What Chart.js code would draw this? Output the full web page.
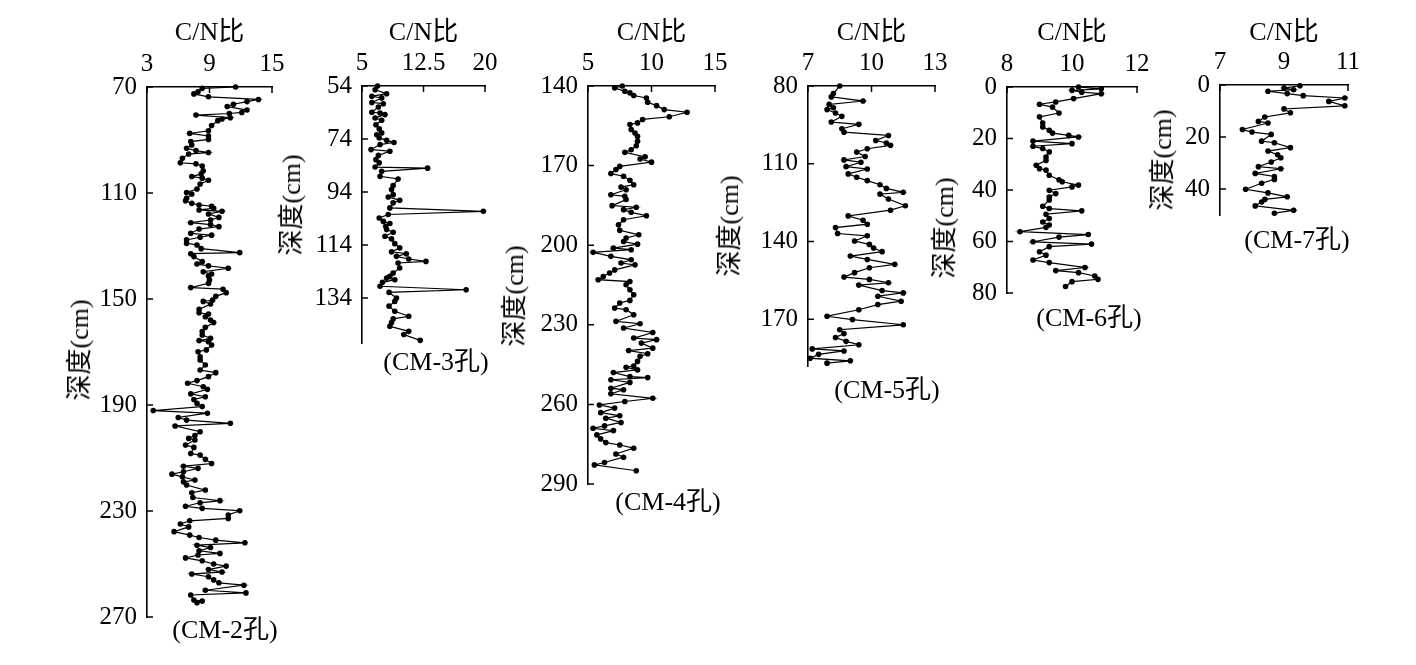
<!DOCTYPE html>
<html><head><meta charset="utf-8">
<script src="https://cdn.jsdelivr.net/npm/chart.js@4"></script>
<style>
html,body{margin:0;padding:0;background:#fff;width:1416px;height:665px;overflow:hidden}
canvas{position:absolute;left:0;top:0}
.cap,.ytl{position:absolute;font-family:"Liberation Serif","Noto Sans CJK SC",serif;font-size:26px;color:#000;white-space:nowrap;line-height:1}
.cap{transform:translate(-50%,-50%)}
.ytl{transform:translate(-50%,-50%) rotate(-90deg)}
</style></head><body>
<script>
// ---------- DATA ----------
const xTitle = 'C/N比';
const yTitle = '深度(cm)';

const cm2Depth = [70,70.5,71.8,72.6,73.7,74.7,75.5,76.5,77.4,78.7,79.6,80,80.6,81.6,82.1,82.7,84.5,86.5,87.5,88.5,89.8,90.6,91.9,93.1,94,94.7,95.3,96.9,98.6,99,99.8,101.6,102.8,103.8,104.4,105.2,106.6,108.5,109.8,110.4,112,112.9,113.9,114.5,115,115.8,116.4,116.9,117.9,119.2,120.2,121.2,121.9,122.7,123.6,125.2,125.9,126.7,127.7,129,129.6,131,132.5,132.9,134,135.9,136.8,137.5,138.4,139.7,140.6,141.3,142.8,144.1,145.7,146.3,147.6,149,150.4,150.9,151.9,153.9,155.2,155.7,156.7,157.9,158.9,160.7,162.3,163.6,164.8,165.7,166.1,167.4,169.2,169.9,171.8,173,174.9,176.8,177.8,179.3,180.8,181.8,183.1,184.1,185.8,186.9,187.9,189.4,190.6,192.1,193.1,194.7,195.7,196.9,197.9,200.1,201.5,202.6,203.2,205.1,206,208.3,208.9,210.5,212.1,213.1,213.9,215.2,216.1,217.1,218.3,219,220.2,222.1,223.1,224.9,226.1,226.9,228.2,229,229.9,231.5,232.8,233.7,234.9,236,237.8,239.1,240,241,242,242.9,243.8,245,246,246.6,247.7,248.8,250,250.8,252.1,253,253.8,254.8,256,257.1,258,259.9,260.9,261.7,263.6,264,264.6];
const cm2CN = [11.5,8.3,7.9,7.5,8.9,13.7,12.6,11.3,10.7,12.6,12.1,10.9,7.7,11,10.2,9.8,9.2,8.9,7.1,8.9,8.9,7.2,7.3,6.8,7.7,8.9,7,6.4,6.2,7.7,8.3,8.4,8.2,7.3,8.3,8.9,8.1,7.8,6.8,7.3,6.8,6.7,7.3,8,9.2,9.4,8,10.2,8.9,9.9,9.1,7.2,9.1,9.9,8,7.2,9.2,8.1,6.8,6.8,7.8,8.2,11.9,7.2,7.5,8.3,7.8,8.9,10.8,8.4,9.2,8.9,9,8.9,7.2,10.3,10.6,9.6,9.3,8.4,9.1,8,8,8.9,8.6,9.1,9.4,8.6,8.3,8.3,9.1,8,8.9,9.2,8.7,7.9,8.1,8.1,8.6,8.1,9.6,8.9,7.8,6.9,8.4,8.8,7.2,8.6,7.5,7.8,8.3,3.6,8.8,6,6.8,11,5.7,8.1,7.6,7,7.6,6.7,7.5,7.2,8.1,8.6,9.2,6.5,7.9,6.5,5.4,6.4,7.6,6.5,6.8,8.6,7.3,7.4,10,8.1,6.7,8.3,11.9,10.8,10.8,7.1,6.2,7,5.6,7.1,8,9.6,12.4,7.8,9.1,8,10,7.9,6.7,8.3,9.4,10.6,8.9,10.2,7.3,8.9,9.4,9.9,12.3,8.6,12.5,7.2,7.5,8.3,7.8];

const cm3Depth = [54,55.4,56.9,57.9,58.5,60.2,60.7,61.9,63.9,64.2,64.8,66.1,66.9,68.6,70.2,71.7,72.4,73.6,74.5,75.3,76.1,78,78.6,80.2,81.8,83,84.6,85,86.2,88.1,89.1,91.6,93.1,95,95.9,97.1,98.1,100,101.3,102.5,103.8,105.1,105.9,107,108.2,109.2,110.7,111.7,113.5,115.1,116.6,117.3,118.3,119.3,120.2,120.8,122.7,124.6,125.8,126.5,127.1,128.1,129.6,130.9,131.9,134,135.3,137.1,139,140.9,141.9,143.3,144.7,146.6,147.8,150];
const cm3CN = [6.9,6.6,8,6.2,7.4,6.2,7.6,7,6.2,7.2,7.8,6.6,7.4,6.7,7.1,7.4,6.8,7.1,8,8.9,7.2,6.1,8.4,7,6.7,7.1,6.6,13,7.4,7.2,9.4,8.8,8.6,8.8,8.2,9.6,8.8,8.4,19.8,8.2,7.1,7.6,8.4,7.9,8,8.8,7.8,8.6,9,9.6,8.6,10.4,9.2,10.7,12.8,9.4,9.6,8.8,8.4,8,9,7.5,7.2,17.7,8.3,9.2,9,8.3,9,10.7,8.8,8.6,8.4,10.7,10.1,12.1];

const cm4Depth = [140,140.7,142,142.6,143.6,144.5,146.1,147.4,148.9,149.9,151.6,152.6,153.9,154.5,156.4,157.7,159,160.8,162.5,164,165,166.7,167.5,168.7,170.3,171.5,173,174,175.5,177.2,178.1,179.1,181,181.6,182.8,185.1,185.7,186.6,187.6,188.9,190.4,192.3,194.4,196.1,197.3,198.6,199.6,201.1,201.7,202.7,204.2,205.5,206.7,207.4,209.3,210.5,211.8,213,213.7,214.9,216.8,218.7,220.8,221.8,223.7,224.3,226.2,228.7,229.6,231.2,232.9,235,235.6,236.9,238.8,239.7,240.9,241.9,243.8,245.5,246,247,248,249.5,249.9,250.7,251.7,253.9,254.5,256,257.7,258.9,260.2,261.4,263.1,264.3,265.2,266.8,268.1,269,269.9,271.5,273,274.4,275.3,276.5,278.7,279.9,281.9,282.8,285];
const cm4CN = [7.7,7.1,7.9,8.3,8.6,9.6,9.7,10.4,11,12.8,11.4,9.3,8.9,8.3,8.4,8.7,8.9,8.9,8.8,8.4,7.9,9.5,9.1,10,7.5,7.2,6.8,7.8,8.3,8.6,7.6,8,6.8,7.9,8,6.9,8.8,7.8,8.4,9.6,7.8,7.4,7.5,9,8,7.8,8.9,7,8.4,5.4,6.8,8.4,7.6,8.7,7.1,6.7,6.2,5.8,8.3,8,8.3,8.6,8.3,7.5,7.1,8,8.6,7.2,9.1,7.8,10.1,8.6,10.4,9.2,10.1,8.2,9.7,9.1,8.9,8.6,8,8.9,7,8.3,9.7,6.8,8.3,6.8,7.8,6.8,10.1,7.9,5.9,7.1,6,7.5,6.4,7.6,6.3,5.4,7,5.7,6,6.4,7.5,8.6,7.2,7.8,6.3,5.5,8.8];

const cm5Depth = [80,82.9,84.2,85.8,87.1,88.4,89.1,90.4,91.7,93.9,94.8,96.5,97.8,99.1,101,102,102.9,104.2,105.5,107.2,108.5,109.4,111.1,112,113.9,115.2,116.5,118.1,119.5,121,121.7,123.6,126.2,127.9,130.1,131.8,133.3,134.6,136.9,137.8,139.8,141.1,142.5,143.9,145.6,146.9,148.8,150.1,152,153.7,154.6,155.9,156.8,158.9,159.8,161.1,163,164.3,166.3,168.8,170.1,172.1,174,175.5,177,178.5,179.8,181.4,182.2,183.5,185,186,186.9];
const cm5CN = [8.5,8.2,8.1,9.6,8,8.2,7.9,8.3,8.6,8.1,9.4,8.6,8.7,10.8,10.2,10.7,10.9,9.8,9.3,9.7,8.7,9.5,8.8,9.8,8.9,9.3,9.8,10.4,10.7,11.5,10.4,10.8,11.6,10.9,8.9,9.6,9.8,8.3,8.4,9.8,9.2,9.9,10.1,10.5,9,9.8,11.1,9.9,9.2,8.7,9.9,10.8,9.4,10.5,11.5,10.3,11.4,10.3,9.4,7.9,9.1,11.5,8.5,8.7,8.3,8.8,9.4,7.2,8.7,7.5,7.1,9,7.9];

const cm6Depth = [0,0.7,1.3,2,2.6,4.5,5.8,6.7,7.8,10.1,11.6,14,15.5,16.8,17.9,18.8,19.4,21,22,23,23.9,25.2,27.2,28.5,30.4,31.7,32.3,34.3,36,36.8,38.1,38.8,40.1,41.4,42.7,43.9,46.3,47.2,48.1,49.4,51.1,52.4,53.6,54.5,56.2,57.3,58.3,60.1,61,62,64,65.3,67.2,68.2,70.1,71.3,72.1,73.4,74.7,75.6,77.5];
const cm6CN = [10.2,10.9,10,10.3,10.9,10.05,9.5,9,9.4,9.6,9,9.1,9.1,9.3,9.4,9.9,10.2,8.8,10,8.8,9.1,9.3,9.2,9.2,8.9,9,9.2,9.3,9.6,9.7,10.2,10,9.3,9.5,9.3,9.3,9.1,9.3,10.3,9.2,9.3,9.1,9.3,9.2,8.4,10.5,9.6,8.8,10.6,9.3,9,9.2,8.8,9.3,10.4,9.5,10.2,10.7,10.8,10,9.8];

const cm7Depth = [0.3,1.2,1.8,2.4,3.3,4.1,5,6.3,8,9.2,10.7,12.3,14,14.6,17.1,18.1,19,21.6,22.2,24.1,25.4,26.8,28,29.6,31.4,32.2,34,35.2,36.3,37.8,40.1,41.5,43,44,45,46.5,48.2,49.3];
const cm7CN = [9.5,9,9.3,8.5,9.1,9.6,10.9,10.4,10.9,9,9.2,8.4,8.2,8.5,7.7,8,8.6,8.3,8.7,9.2,8.5,8.8,8.9,8.6,8.2,8.9,8.1,8.7,8.7,8.3,7.8,8.5,9.1,8.4,8.3,8.1,9.3,8.7];

const cm2XTicks = [3,9,15],   cm2YTicks = [70,110,150,190,230,270];
const cm3XTicks = [5,12.5,20], cm3YTicks = [54,74,94,114,134];
const cm4XTicks = [5,10,15],  cm4YTicks = [140,170,200,230,260,290];
const cm5XTicks = [7,10,13],  cm5YTicks = [80,110,140,170];
const cm6XTicks = [8,10,12],  cm6YTicks = [0,20,40,60,80];
const cm7XTicks = [7,9,11],   cm7YTicks = [0,20,40];

const captions = ['(CM-2孔)','(CM-3孔)','(CM-4孔)','(CM-5孔)','(CM-6孔)','(CM-7孔)'];

// ---------- LAYOUT ----------
const panels = [
  {depth:cm2Depth, cn:cm2CN, xt:cm2XTicks, yt:cm2YTicks, ymin:70,  ymax:270, L:147,  T:87, R:272,  B:617, yt_pos:[80,350],   cap:[225,630]},
  {depth:cm3Depth, cn:cm3CN, xt:cm3XTicks, yt:cm3YTicks, ymin:54,  ymax:151, L:362,  T:86, R:485,  B:343, yt_pos:[292,205],  cap:[436,362]},
  {depth:cm4Depth, cn:cm4CN, xt:cm4XTicks, yt:cm4YTicks, ymin:140, ymax:290, L:588,  T:86, R:715,  B:484, yt_pos:[515,296],  cap:[668,502]},
  {depth:cm5Depth, cn:cm5CN, xt:cm5XTicks, yt:cm5YTicks, ymin:80,  ymax:188, L:808,  T:86, R:935,  B:366, yt_pos:[730,226],  cap:[887,390]},
  {depth:cm6Depth, cn:cm6CN, xt:cm6XTicks, yt:cm6YTicks, ymin:0,   ymax:80,  L:1007, T:87, R:1137, B:293, yt_pos:[945,228],  cap:[1089,318]},
  {depth:cm7Depth, cn:cm7CN, xt:cm7XTicks, yt:cm7YTicks, ymin:0,   ymax:50,  L:1220, T:85, R:1348, B:215, yt_pos:[1163,160], cap:[1297,240]}
];

Chart.defaults.font.family = '"Liberation Serif","Noto Sans CJK SC",serif';
Chart.defaults.color = '#000';

const inwardTicks = {
  id:'inwardTicks',
  afterDraw(chart){
    const ctx = chart.ctx, a = chart.chartArea, xs = chart.scales.x, ys = chart.scales.y;
    ctx.save(); ctx.strokeStyle = '#000'; ctx.lineWidth = 1.5; ctx.beginPath();
    xs.ticks.forEach(t => { const x = xs.getPixelForValue(t.value); ctx.moveTo(x, a.top); ctx.lineTo(x, a.top + 6); });
    ys.ticks.forEach(t => { const y = ys.getPixelForValue(t.value); ctx.moveTo(a.left, y); ctx.lineTo(a.left + 6, y); });
    ctx.stroke(); ctx.restore();
  }
};

const TITLE_FS = 26, TICK_FS = 25, YW = 60;
panels.forEach((p, idx) => {
  const c = document.createElement('canvas');
  c.width = 1416; c.height = 665;
  c.style.width = '1416px'; c.style.height = '665px';
  document.body.appendChild(c);
  const pts = p.depth.map((d, i) => ({x: p.cn[i], y: d}));
  new Chart(c, {
    type: 'scatter',
    data: {datasets: [{data: pts, showLine: true, borderColor: '#000', borderWidth: 1.2,
      pointRadius: 2.8, pointBackgroundColor: '#000', pointBorderWidth: 0, clip: false}]},
    options: {
      responsive: false, animation: false, events: [],
      layout: {padding: {left: p.L - YW, top: 0, right: 1416 - p.R, bottom: 665 - p.B}},
      plugins: {legend: {display: false}, tooltip: {enabled: false}},
      scales: {
        x: {
          type: 'linear', position: 'top', min: p.xt[0], max: p.xt[p.xt.length - 1],
          afterBuildTicks: s => { s.ticks = p.xt.map(v => ({value: v})); },
          afterFit: s => { s.height = p.T; },
          grid: {display: false, drawTicks: false},
          border: {display: true, color: '#000', width: 1.6},
          ticks: {color: '#000', font: {size: TICK_FS}, padding: 8, maxRotation: 0, autoSkip: false, callback: v => String(v)},
          title: {display: true, text: xTitle, color: '#000', font: {size: TITLE_FS, lineHeight: 1}, padding: {top: 20, bottom: 0}}
        },
        y: {
          type: 'linear', position: 'left', reverse: true, min: p.ymin, max: p.ymax,
          afterBuildTicks: s => { s.ticks = p.yt.map(v => ({value: v})); },
          afterFit: s => { s.width = YW; },
          grid: {display: false, drawTicks: false},
          border: {display: true, color: '#000', width: 1.6},
          ticks: {color: '#000', font: {size: TICK_FS}, padding: 10, autoSkip: false, callback: v => String(v)},
          title: {display: false}
        }
      }
    },
    plugins: [inwardTicks]
  });
  const t = document.createElement('div');
  t.className = 'ytl'; t.textContent = yTitle;
  t.style.left = p.yt_pos[0] + 'px'; t.style.top = p.yt_pos[1] + 'px';
  document.body.appendChild(t);
  const d = document.createElement('div');
  d.className = 'cap'; d.textContent = captions[idx];
  d.style.left = p.cap[0] + 'px'; d.style.top = p.cap[1] + 'px';
  document.body.appendChild(d);
});
</script>
</body></html>
